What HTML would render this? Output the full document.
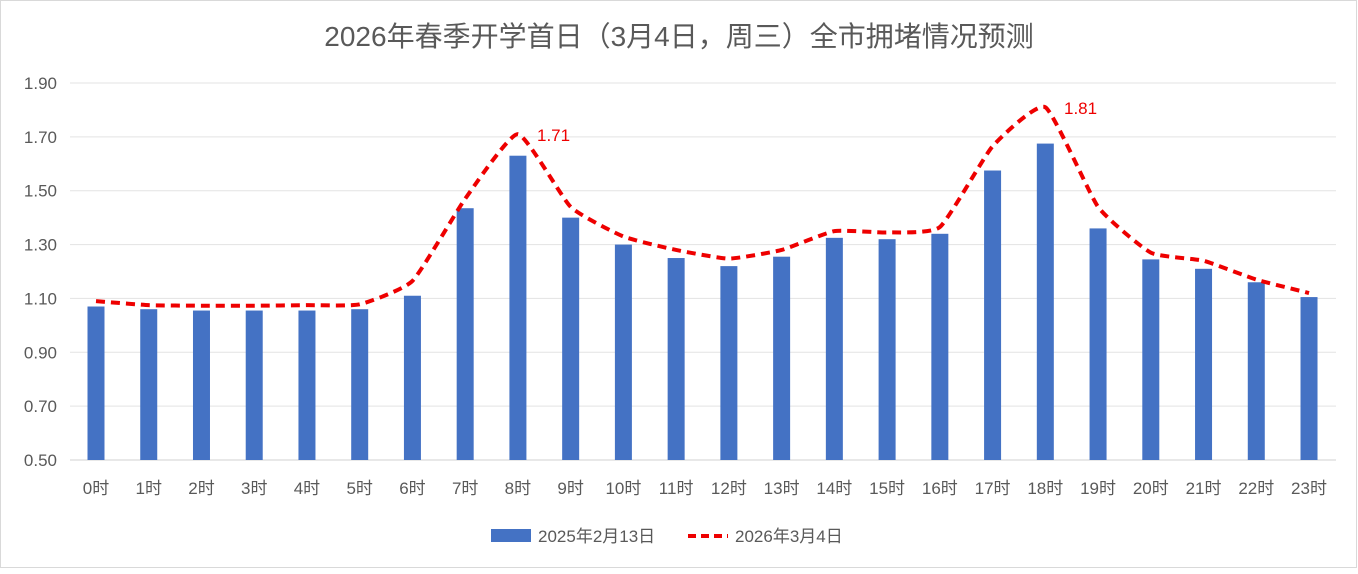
<!DOCTYPE html>
<html><head><meta charset="utf-8"><style>
html,body{margin:0;padding:0;background:#fff;}
body{width:1358px;height:569px;overflow:hidden;}
svg text{font-family:"Liberation Sans","Noto Sans CJK SC",sans-serif;}
</style></head><body>
<svg id="s" width="1358" height="569" xmlns="http://www.w3.org/2000/svg">
<rect x="0.5" y="0.5" width="1356" height="567" fill="#fff" stroke="#d9d9d9"/>
<text x="679" y="46" text-anchor="middle" font-size="28" fill="#595959">2026年春季开学首日（3月4日，周三）全市拥堵情况预测</text>
<g id="g"></g>
<rect x="491" y="529" width="40" height="13" fill="#4472c4"/>
<text x="538" y="542" font-size="17" fill="#595959">2025年2月13日</text>
<line x1="688" y1="536" x2="728" y2="536" stroke="#e00" stroke-width="4" stroke-dasharray="8,5"/>
<text x="735" y="542" font-size="17" fill="#595959">2026年3月4日</text>
</svg>
<script>
var g=document.getElementById('g'),h='';
function Y(v){return 460-(v-0.5)/1.4*377;}
function X(i){return 96+i*52.74;}
var ticks=[1.9,1.7,1.5,1.3,1.1,0.9,0.7,0.5];
ticks.forEach(function(t){var y=Y(t);h+='<line x1="70" x2="1336" y1="'+y+'" y2="'+y+'" stroke="'+(t==0.5?'#d0d0d0':'#e3e3e3')+'" stroke-width="1"/>';
h+='<text x="57" y="'+(y+6)+'" text-anchor="end" font-size="17" fill="#595959">'+t.toFixed(2)+'</text>';});
var b=[1.07,1.06,1.055,1.055,1.055,1.06,1.11,1.435,1.63,1.40,1.30,1.25,1.22,1.255,1.325,1.32,1.34,1.575,1.675,1.36,1.245,1.21,1.16,1.105];
var l=[1.09,1.075,1.073,1.073,1.075,1.078,1.165,1.47,1.71,1.44,1.33,1.28,1.248,1.28,1.35,1.345,1.365,1.665,1.81,1.44,1.27,1.24,1.17,1.12];
b.forEach(function(v,i){var x=X(i),y=Y(v);h+='<rect x="'+(x-8.5)+'" y="'+y+'" width="17" height="'+(460-y)+'" fill="#4472c4"/>';
h+='<text x="'+x+'" y="494" text-anchor="middle" font-size="17" fill="#595959">'+i+'时</text>';});
var p=l.map(function(v,i){return [X(i),Y(v)];});
var d='M'+p[0][0]+','+p[0][1];
for(var i=0;i<p.length-1;i++){var p0=p[Math.max(i-1,0)],p1=p[i],p2=p[i+1],p3=p[Math.min(i+2,p.length-1)],k=0.08;
d+=' C'+(p1[0]+(p2[0]-p0[0])*k)+','+(p1[1]+(p2[1]-p0[1])*k)+' '+(p2[0]-(p3[0]-p1[0])*k)+','+(p2[1]-(p3[1]-p1[1])*k)+' '+p2[0]+','+p2[1];}
h+='<path d="'+d+'" fill="none" stroke="#e00" stroke-width="4" stroke-dasharray="9,6"/>';
h+='<text x="537" y="141" font-size="17" fill="#e00">1.71</text>';
h+='<text x="1064" y="114" font-size="17" fill="#e00">1.81</text>';
g.innerHTML=h;
</script>
</body></html>
